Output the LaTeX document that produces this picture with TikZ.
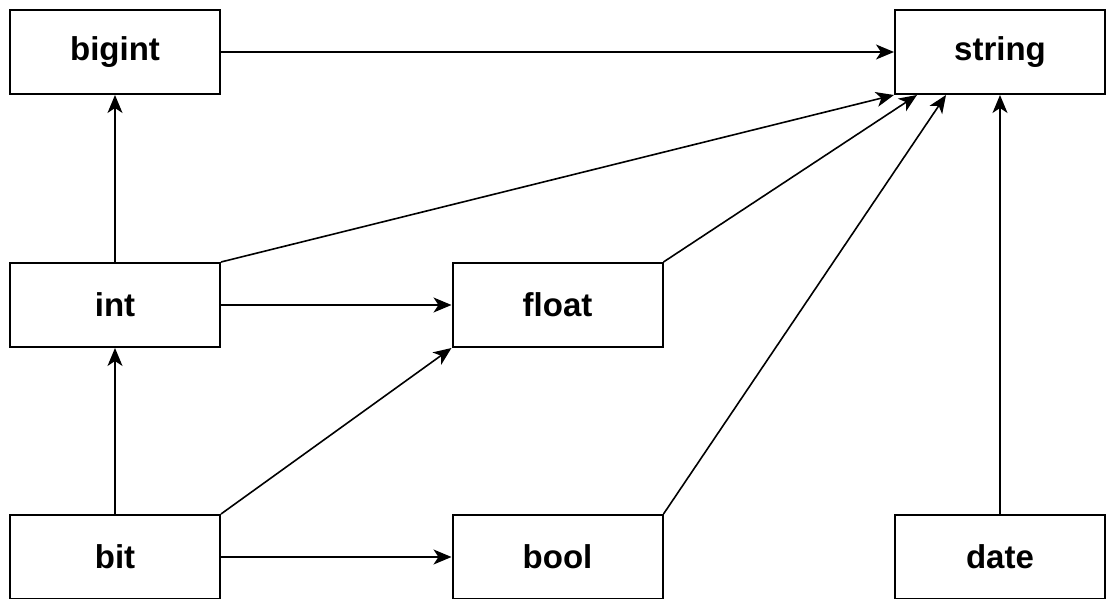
\documentclass[tikz,border=0pt]{standalone}
\usepackage{fontspec}
\setmainfont{Liberation Sans}
\usetikzlibrary{arrows.meta}
\begin{document}
\begin{tikzpicture}[x=1pt,y=-1pt,
  box/.style={draw=black,line width=2pt,fill=white,minimum width=210pt,minimum height=84pt,inner sep=0pt,
    font=\fontsize{33}{39}\selectfont\bfseries},
  arr/.style={draw=black,line width=1.6pt,-{Stealth[length=18pt,width=15pt,inset=5pt]}}]
\useasboundingbox (0,0) rectangle (1106,599);
\fill[white] (0,0) rectangle (1106,599);
\node[box] (bigint) at (115,52) {bigint};
\node[box] (string) at (1000,52) {string};
\node[box] (int) at (115,305) {int};
\node[box] (float) at (557.5,305) {float};
\node[box] (bit) at (115,557) {bit};
\node[box] (bool) at (557.5,557) {bool};
\node[box] (date) at (1000,557) {date};
\draw[arr] (bigint.east) -- (string.west);
\draw[arr] (int.north) -- (bigint.south);
\draw[arr] (int.north east) -- (string.south west);
\draw[arr] (int.east) -- (float.west);
\draw[arr] (float.north east) -- ([xshift=23pt]string.south west);
\draw[arr] (bit.north) -- (int.south);
\draw[arr] (bit.north east) -- (float.south west);
\draw[arr] (bit.east) -- (bool.west);
\draw[arr] (bool.north east) -- ([xshift=52pt]string.south west);
\draw[arr] (date.north) -- (string.south);
\end{tikzpicture}
\end{document}
